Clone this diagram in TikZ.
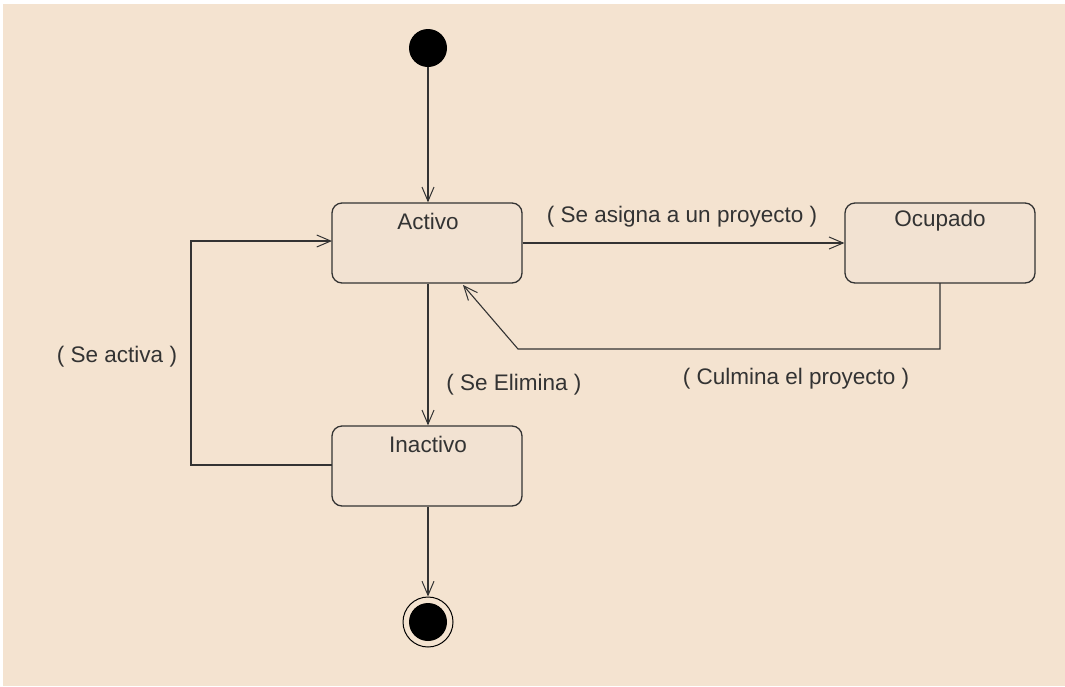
\documentclass[tikz,border=0pt]{standalone}
\usepackage{fontspec}
\setmainfont{Liberation Sans}
\usetikzlibrary{arrows.meta,positioning}
\definecolor{bg}{HTML}{F4E3D0}
\definecolor{boxfill}{HTML}{F2E2D2}
\definecolor{ln}{HTML}{333333}
\tikzset{
  px/.style={x=1pt,y=-1pt},
  state/.style={draw=ln,line width=1.3pt,fill=boxfill,rounded corners=10pt,minimum width=190pt,minimum height=80pt,inner sep=0pt},
  stlabel/.style={font=\fontsize{22.5}{26}\selectfont,text=ln,inner sep=0pt},
  edge/.style={draw=ln,line width=1.1pt,-{Straight Barb[length=14pt,width=12pt,line width=1pt]}},
  lbl/.style={font=\fontsize{22.5}{26}\selectfont,text=ln,inner sep=0pt},
}
\begin{document}
\begin{tikzpicture}[px]
\useasboundingbox (0,0) rectangle (1065,686);
\fill[white] (0,0) rectangle (1065,686);
\fill[bg] (3,4) rectangle (1065,686);
% states
\node[state] (act) at (427,243) {};
\node[stlabel] at (428,221) {Activo};
\node[state] (ocu) at (940,243) {};
\node[stlabel] at (940,221) {Ocupado};
\node[state] (ina) at (427,466) {};
\node[stlabel] at (428,444) {Inactivo};
% initial and final
\node[circle,fill=black,minimum size=38pt,inner sep=0pt] (ini) at (428,48) {};
\node[circle,draw=black,line width=1pt,minimum size=50pt,inner sep=0pt] (fin) at (428,622) {};
\fill[black] (fin.center) circle (19pt);
% coordinates
\coordinate (a1) at (332,241);
\coordinate (i1) at (332,465);
\coordinate (o1) at (940,283);
\coordinate (tip) at (463,285);
% edges
\draw[edge] (ini) -- (act.north -| ini);
\draw[edge] (act.east) -- (ocu.west);
\draw[edge] (o1) -- (940,349) -- (518,349) -- (tip);
\draw[edge] (act.south -| ini) -- (ina.north -| ini);
\draw[edge] (i1) -- (191,465) -- (191,241) -- (a1);
\draw[edge] (ina.south -| ini) -- (fin.north);
% labels
\node[lbl] at (682,217) {( Se asigna a un proyecto )};
\node[lbl] at (796,379) {( Culmina el proyecto )};
\node[lbl] at (514,385) {( Se Elimina )};
\node[lbl] at (117,357) {( Se activa )};
\end{tikzpicture}
\end{document}
